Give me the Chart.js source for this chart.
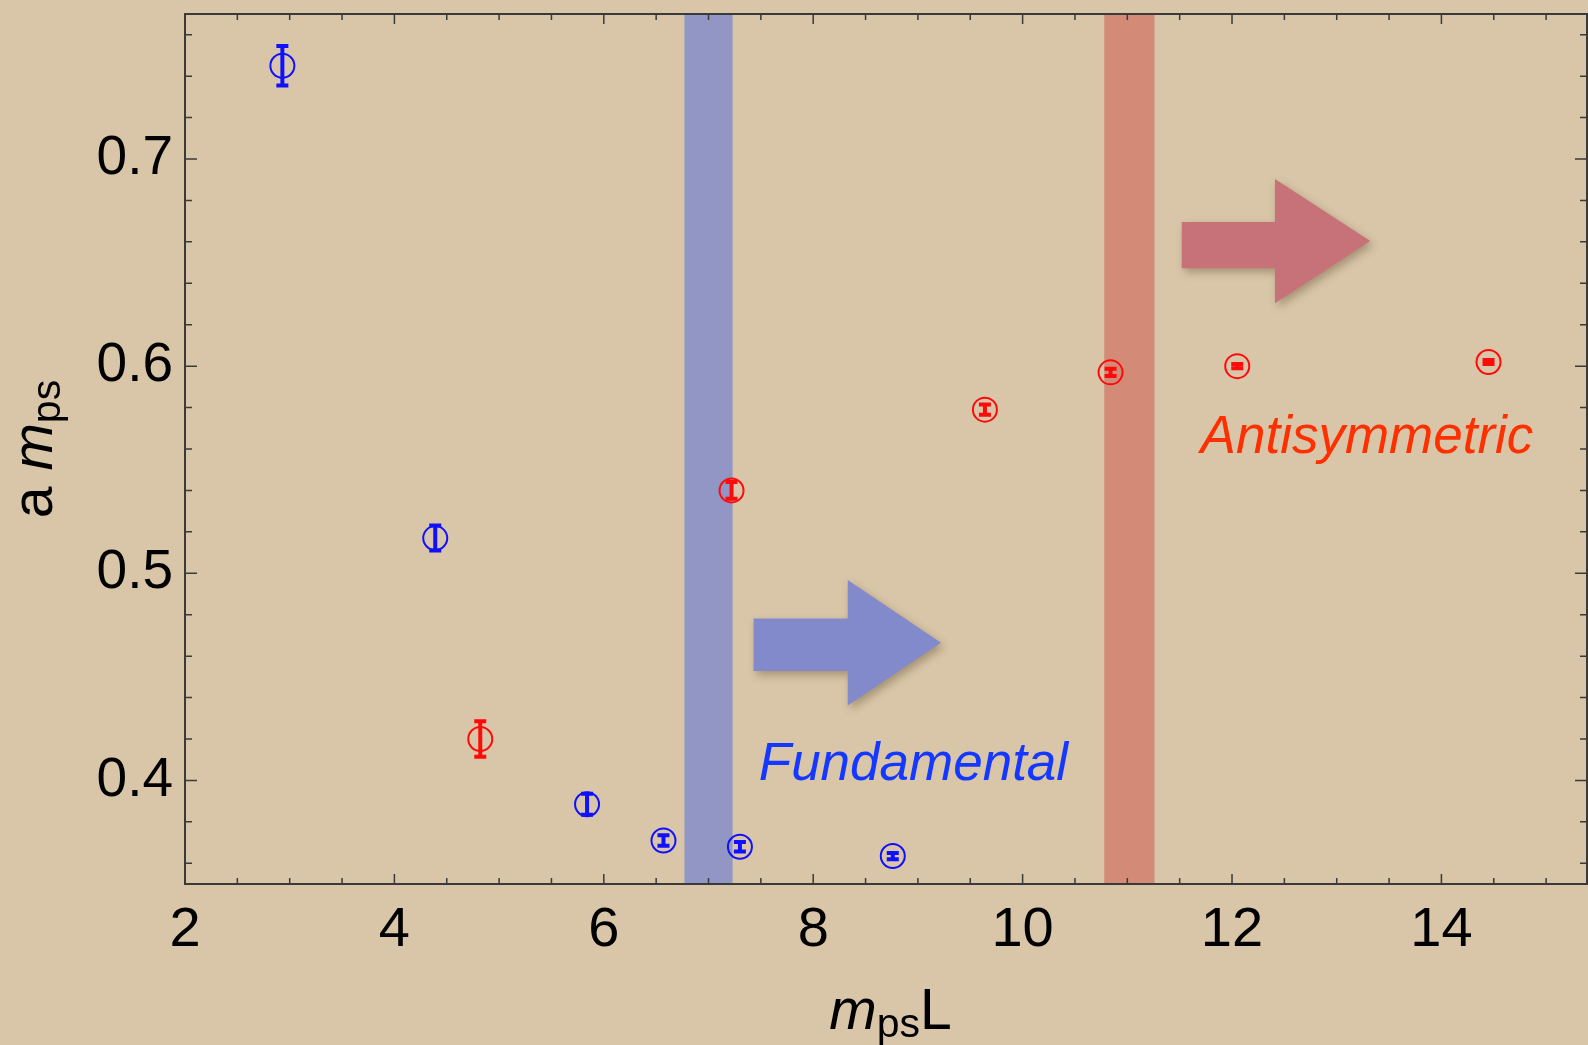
<!DOCTYPE html>
<html>
<head>
<meta charset="utf-8">
<title>a m_ps vs m_ps L</title>
<script src="https://cdn.jsdelivr.net/npm/chart.js@4.4.1/dist/chart.umd.min.js"></script>
<style>
  html, body { margin: 0; padding: 0; background: #d9c6a8; }
  canvas { display: block; }
</style>
</head>
<body>
<canvas id="myChart" width="1588" height="1045"></canvas>
<script>
// fundamental rep (blue points)
var fundX   = [2.93, 4.39, 5.84, 6.57, 7.30, 8.76];
var fundY   = [0.745, 0.517, 0.3885, 0.371, 0.368, 0.3635];
var fundErr = [0.010, 0.0065, 0.0055, 0.003, 0.0028, 0.002];

// antisymmetric rep (red points)
var antiX   = [4.82, 7.22, 9.64, 10.84, 12.05, 14.45];
var antiY   = [0.420, 0.540, 0.579, 0.597, 0.600, 0.602];
var antiErr = [0.009, 0.0045, 0.003, 0.0022, 0.0015, 0.0015];

// tick labels
var xTicks = [2, 4, 6, 8, 10, 12, 14];
var yTicks = [0.4, 0.5, 0.6, 0.7];

// shaded bands (x ranges)
var bandFrom = [6.77, 10.78];
var bandTo   = [7.23, 11.26];

var fontFam = "'Liberation Sans', Helvetica, Arial, sans-serif";
var blue = '#1010ff';
var red = '#ff0a0a';

// annotations, in data units
var bands = [
  {from: bandFrom[0], to: bandTo[0], color: 'rgb(145,150,196)'},
  {from: bandFrom[1], to: bandTo[1], color: 'rgb(211,139,119)'}
];
var arrows = [
  {x0: 7.43, xh: 8.33, x1: 9.22, y: 0.4665, dy: -0.001, shaft: 0.0127, head: 0.0303, color: 'rgb(130,138,204)'},
  {x0: 11.52, xh: 12.41, x1: 13.32, y: 0.6604, dy: -0.002, shaft: 0.0112, head: 0.030, color: 'rgb(198,114,120)'}
];
var notes = [
  {text: 'Fundamental', x: 7.48, y: 0.4004, color: '#1438ff'},
  {text: 'Antisymmetric', x: 11.70, y: 0.5583, color: '#ff3000'}
];

function pts(xs, ys) {
  var out = [];
  for (var i = 0; i < xs.length; i++) out.push({x: xs[i], y: ys[i]});
  return out;
}

// kill the extra label padding chart.js adds around the axes
function noPad(axis) {
  axis.paddingTop = 0;
  axis.paddingBottom = 0;
  axis.paddingLeft = 0;
  axis.paddingRight = 0;
}

var paper = {
  id: 'paper',
  beforeDraw: function(chart) {
    var ctx = chart.ctx;
    ctx.save();
    ctx.fillStyle = '#d9c6a8';
    ctx.fillRect(0, 0, chart.width, chart.height);
    ctx.restore();
  },
  beforeDatasetsDraw: function(chart) {
    var ctx = chart.ctx, sx = chart.scales.x, sy = chart.scales.y, a = chart.chartArea;
    ctx.save();
    ctx.beginPath();
    ctx.rect(a.left, a.top, a.right - a.left, a.bottom - a.top);
    ctx.clip();
    // bands
    bands.forEach(function(b) {
      var l = sx.getPixelForValue(b.from), r = sx.getPixelForValue(b.to);
      ctx.fillStyle = b.color;
      ctx.fillRect(l, a.top, r - l, a.bottom - a.top);
    });
    // arrows (shaft sits a touch below the tip line, like the original)
    arrows.forEach(function(ar) {
      var x0 = sx.getPixelForValue(ar.x0), xh = sx.getPixelForValue(ar.xh), x1 = sx.getPixelForValue(ar.x1);
      var yc = sy.getPixelForValue(ar.y);
      var ys = sy.getPixelForValue(ar.y + ar.dy);
      var s = sy.getPixelForValue(ar.y - ar.shaft) - yc;
      var h = sy.getPixelForValue(ar.y - ar.head) - yc;
      ctx.save();
      ctx.shadowColor = 'rgba(70,50,20,0.35)';
      ctx.shadowBlur = 8;
      ctx.shadowOffsetX = 3;
      ctx.shadowOffsetY = 4;
      ctx.fillStyle = ar.color;
      ctx.beginPath();
      ctx.moveTo(x0, ys - s);
      ctx.lineTo(xh, ys - s);
      ctx.lineTo(xh, yc - h);
      ctx.lineTo(x1, yc);
      ctx.lineTo(xh, yc + h);
      ctx.lineTo(xh, ys + s);
      ctx.lineTo(x0, ys + s);
      ctx.closePath();
      ctx.fill();
      ctx.restore();
    });
    ctx.restore();
  },
  afterDatasetsDraw: function(chart) {
    var ctx = chart.ctx, sx = chart.scales.x, sy = chart.scales.y, a = chart.chartArea;
    ctx.save();

    // error bars
    function bars(xs, ys, es, col) {
      ctx.strokeStyle = col;
      for (var i = 0; i < xs.length; i++) {
        var px = sx.getPixelForValue(xs[i]);
        var top = sy.getPixelForValue(ys[i] + es[i]);
        var bot = sy.getPixelForValue(ys[i] - es[i]);
        ctx.lineWidth = 4;
        ctx.beginPath();
        ctx.moveTo(px, top);
        ctx.lineTo(px, bot);
        ctx.stroke();
        ctx.beginPath();
        ctx.moveTo(px - 6, top + 1);
        ctx.lineTo(px + 6, top + 1);
        ctx.moveTo(px - 6, bot - 1);
        ctx.lineTo(px + 6, bot - 1);
        ctx.stroke();
      }
    }
    bars(fundX, fundY, fundErr, blue);
    bars(antiX, antiY, antiErr, red);

    // labels
    ctx.font = 'italic 53px ' + fontFam;
    ctx.textBaseline = 'alphabetic';
    ctx.textAlign = 'left';
    notes.forEach(function(n) {
      ctx.fillStyle = n.color;
      ctx.fillText(n.text, sx.getPixelForValue(n.x), sy.getPixelForValue(n.y));
    });

    // frame
    ctx.strokeStyle = '#3a3a3a';
    ctx.lineWidth = 2;
    ctx.strokeRect(a.left, a.top, a.right - a.left - 1, a.bottom - a.top);

    // ticks on all four sides, pointing in
    ctx.lineWidth = 1.5;
    ctx.beginPath();
    for (var v = 2; v <= 15.4; v += 0.5) {
      var px = sx.getPixelForValue(v);
      var len = (v % 2 === 0) ? 10 : 6;
      ctx.moveTo(px, a.bottom); ctx.lineTo(px, a.bottom - len);
      ctx.moveTo(px, a.top); ctx.lineTo(px, a.top + len);
    }
    for (var k = 18; k <= 38; k++) {
      var py = sy.getPixelForValue(k * 0.02);
      var ylen = (k % 5 === 0) ? 12 : 7;
      ctx.moveTo(a.left, py); ctx.lineTo(a.left + ylen, py);
      ctx.moveTo(a.right - 1, py); ctx.lineTo(a.right - 1 - ylen, py);
    }
    ctx.stroke();

    // axis titles with italic m and subscript ps
    ctx.fillStyle = '#000';
    var big = '57px ' + fontFam, bigI = 'italic 57px ' + fontFam, sub = '41px ' + fontFam;
    // x title
    ctx.font = bigI; var wm = ctx.measureText('m').width;
    ctx.font = sub; var wps = ctx.measureText('ps').width;
    ctx.font = big; var wl = ctx.measureText('L').width;
    var cx = (a.left + a.right) / 2 + 4;
    var x = cx - (wm + wps + wl) / 2, base = 1029;
    ctx.font = bigI; ctx.fillText('m', x, base); x += wm;
    ctx.font = sub; ctx.fillText('ps', x, base + 8); x += wps;
    ctx.font = big; ctx.fillText('L', x, base);

    // y title, rotated
    ctx.save();
    ctx.translate(52, (a.top + a.bottom) / 2);
    ctx.rotate(-Math.PI / 2);
    ctx.font = big; var wa = ctx.measureText('a ').width;
    var y0 = -(wa + wm + wps) / 2;
    ctx.fillText('a ', y0, 0); y0 += wa;
    ctx.font = bigI; ctx.fillText('m', y0, 0); y0 += wm;
    ctx.font = sub; ctx.fillText('ps', y0, 8);
    ctx.restore();

    ctx.restore();
  }
};

var myChart = document.getElementById('myChart');
var massChart = new Chart(myChart, {
  type: 'scatter',
  data: {
    datasets: [{
      label: 'Fundamental',
      data: pts(fundX, fundY),
      borderColor: blue,
      backgroundColor: 'rgba(0,0,0,0)',
      pointRadius: 12,
      pointBorderWidth: 2
    }, {
      label: 'Antisymmetric',
      data: pts(antiX, antiY),
      borderColor: red,
      backgroundColor: 'rgba(0,0,0,0)',
      pointRadius: 12,
      pointBorderWidth: 2
    }]
  },
  options: {
    responsive: false,
    animation: false,
    events: [],
    layout: { autoPadding: false, padding: { top: 14, right: 0, left: 0, bottom: 0 } },
    plugins: { legend: { display: false }, tooltip: { enabled: false } },
    scales: {
      x: {
        type: 'linear', min: 2, max: 15.4,
        grid: { display: false, drawTicks: false },
        border: { display: false },
        afterBuildTicks: function(axis) { axis.ticks = xTicks.map(function(v) { return {value: v}; }); },
        afterFit: function(axis) { axis.height = 161; noPad(axis); },
        ticks: {
          font: { family: fontFam, size: 56 }, color: '#000', padding: 13,
          maxRotation: 0, autoSkip: false,
          callback: function(v) { return String(v); }
        }
      },
      y: {
        type: 'linear', min: 0.35, max: 0.77,
        grid: { display: false, drawTicks: false },
        border: { display: false },
        afterBuildTicks: function(axis) { axis.ticks = yTicks.map(function(v) { return {value: v}; }); },
        afterFit: function(axis) { axis.width = 185; noPad(axis); },
        ticks: {
          font: { family: fontFam, size: 55 }, color: '#000', padding: 12,
          autoSkip: false,
          callback: function(v) { return v.toFixed(1); }
        }
      }
    }
  },
  plugins: [paper]
});
</script>
</body>
</html>
